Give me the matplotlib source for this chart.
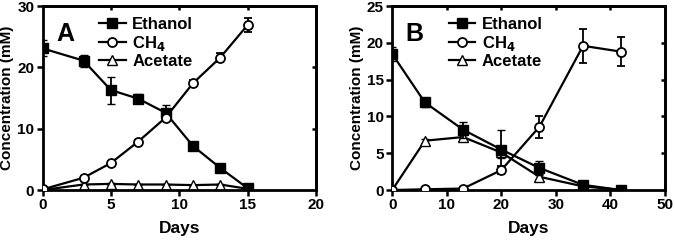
import matplotlib
matplotlib.use("Agg")
import matplotlib.pyplot as plt
from matplotlib.lines import Line2D

plt.rcParams['font.family'] = ['Liberation Sans', 'DejaVu Sans']
plt.rcParams['font.weight'] = 'bold'
plt.rcParams['mathtext.default'] = 'bf'

# Panel A
days_a = [0, 3, 5, 7, 9, 11, 13, 15]
eth_a = [23.1, 21.1, 16.3, 14.9, 12.6, 7.2, 3.6, 0.3]
eth_a_err = [1.3, 1.0, 2.2, 0.7, 1.2, 0.6, 0.7, 0.2]
ch4_a = [0.1, 2.0, 4.4, 7.9, 11.8, 17.4, 21.6, 26.9]
ch4_a_err = [0.1, 0.3, 0.3, 0.3, 0.6, 0.5, 0.7, 1.1]
ace_a = [0.0, 0.9, 1.0, 0.9, 0.9, 0.8, 0.9, 0.2]
ace_a_err = [0.0, 0.1, 0.1, 0.1, 0.1, 0.1, 0.1, 0.1]

# Panel B
days_b = [0, 6, 13, 20, 27, 35, 42]
eth_b = [18.5, 11.9, 8.2, 5.5, 3.0, 0.7, 0.0]
eth_b_err = [1.0, 0.6, 1.1, 2.7, 0.9, 0.2, 0.1]
ch4_b = [0.0, 0.1, 0.2, 2.7, 8.6, 19.6, 18.8]
ch4_b_err = [0.0, 0.1, 0.1, 0.5, 1.5, 2.3, 2.0]
ace_b = [0.0, 6.7, 7.2, 5.1, 1.8, 0.5, 0.0]
ace_b_err = [0.0, 0.3, 0.3, 0.8, 0.4, 0.1, 0.0]

labels = ['Ethanol', 'CH$_4$', 'Acetate']

fig = plt.figure(figsize=(6.75, 2.43), dpi=100)
axA = fig.add_axes([0.063, 0.218, 0.405, 0.757])
axB = fig.add_axes([0.581, 0.218, 0.404, 0.757])

styles = [dict(marker='s', mfc='black', mec='black', mew=1.0),
          dict(marker='o', mfc='white', mec='black', mew=1.3),
          dict(marker='^', mfc='white', mec='black', mew=1.0)]

def draw(ax, d, e, ee, c, ce, a, ae, xlim, xticks, ylim, yticks, letter, inner_y):
    kw = dict(color='black', lw=1.6, capsize=3, elinewidth=1.3, capthick=1.3, ms=6.5)
    ax.errorbar(d, e, yerr=ee, zorder=3, **styles[0], **kw)
    ax.errorbar(d, c, yerr=ce, zorder=4, **styles[1], **kw)
    ax.errorbar(d, a, yerr=ae, zorder=2, **styles[2], **kw)
    ax.set_xlim(*xlim)
    ax.set_ylim(*ylim)
    ax.set_xticks(xticks)
    ax.set_yticks(yticks)
    for s in ax.spines.values():
        s.set_linewidth(2.0)
    ax.tick_params(axis='both', which='major', direction='out', length=4, width=1.8,
                   labelsize=11, pad=2)
    ax.set_xlabel('Days', fontsize=12.5, fontweight='bold', labelpad=6)
    ax.set_ylabel('Concentration (mM)', fontsize=11, fontweight='bold', labelpad=2)
    top = ax.secondary_xaxis('top')
    top.set_xticks(xticks[1:-1])
    top.tick_params(direction='in', length=3, width=1.8, labeltop=False)
    top.spines['top'].set_linewidth(2.0)
    right = ax.secondary_yaxis('right')
    right.set_yticks(inner_y)
    right.tick_params(direction='in', length=3, width=1.8, labelright=False)
    right.spines['right'].set_linewidth(2.0)
    ax.text(0.05, 0.915, letter, transform=ax.transAxes, fontsize=18,
            fontweight='bold', va='top', ha='left')
    handles = [Line2D([], [], color='black', lw=1.6, ms=6.5, **st) for st in styles]
    leg = ax.legend(handles, labels, loc='upper left', bbox_to_anchor=(0.17, 0.995),
                    frameon=False, fontsize=12, handlelength=1.6, handletextpad=0.4,
                    labelspacing=0.1, borderaxespad=0.2)
    for t in leg.get_texts():
        t.set_fontweight('bold')

draw(axA, days_a, eth_a, eth_a_err, ch4_a, ch4_a_err, ace_a, ace_a_err,
     (0, 20), [0, 5, 10, 15, 20], (0, 30), [0, 10, 20, 30], 'A', [10, 20])
draw(axB, days_b, eth_b, eth_b_err, ch4_b, ch4_b_err, ace_b, ace_b_err,
     (0, 50), [0, 10, 20, 30, 40, 50], (0, 25), [0, 5, 10, 15, 20, 25], 'B', [5, 10, 15, 20])

fig.savefig('out.png', dpi=100)
